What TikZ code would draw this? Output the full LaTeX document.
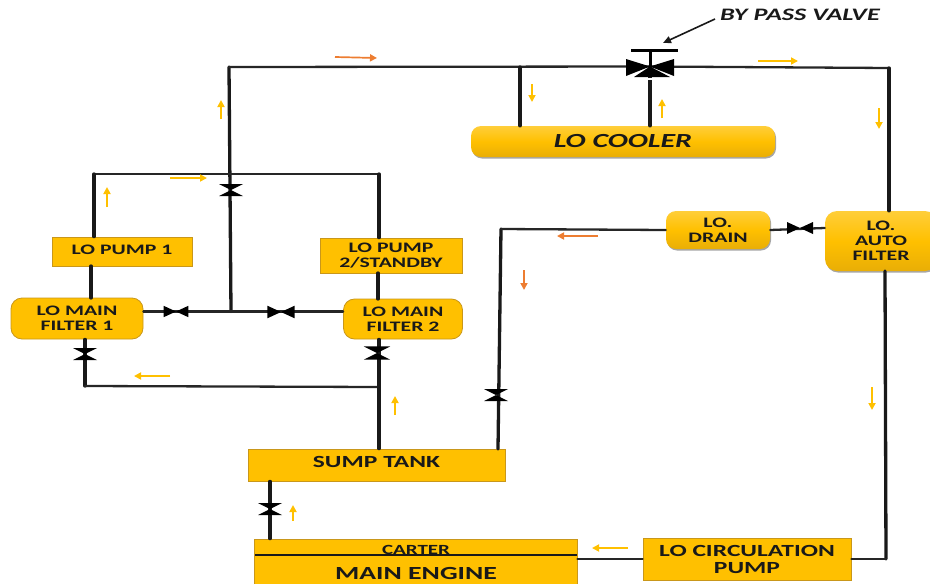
\documentclass[tikz,border=0pt]{standalone}
\usepackage{fontspec}
\newfontfamily\dfont[FakeStretch=1.5]{Carlito}
\usetikzlibrary{shadows,arrows.meta,calc}
\definecolor{gold}{HTML}{FFC000}
\definecolor{goldedge}{HTML}{C9971A}
\definecolor{goldtop}{HTML}{FFCE3A}
\definecolor{goldlow}{HTML}{E9AE06}
\definecolor{flowo}{HTML}{ED7D31}
\tikzset{
  x=1pt,y=-1pt,
  box/.style={inner sep=0pt,align=center,font=\dfont\bfseries\fontsize{14.5}{15}\selectfont,text=black!90},
  flat/.style={box,fill=gold,draw=goldedge,line width=0.8pt},
  soft/.style={flat,rounded corners=11pt},
  glossy/.style={box,rounded corners=10pt,top color=goldtop,bottom color=goldlow,middle color=gold,
    drop shadow={shadow xshift=1pt,shadow yshift=-1.5pt,fill=black,opacity=.35}},
  pipe/.style={line width=3.3pt,black!90,line cap=round},
  thinpipe/.style={line width=2.3pt,black!85,line cap=round},
  flowy/.style={-{Triangle[length=7pt,width=7pt]},line width=1.7pt,gold},
  flowr/.style={-{Triangle[length=7pt,width=7pt]},line width=1.7pt,flowo},
  pics/hvalve/.style={code={\fill[black] (-13,-6)--(0,0)--(-13,6)--cycle (13,-6)--(0,0)--(13,6)--cycle;}},
  pics/vvalve/.style={code={\fill[black] (-12,-6)--(12,-6)--(0,0)--cycle (-12,6)--(12,6)--(0,0)--cycle;}},
}
\begin{document}
\begin{tikzpicture}
\useasboundingbox (0,0) rectangle (930,584);
\clip (0,0) rectangle (930,584);

\node[glossy,minimum width=304pt,minimum height=31pt,font=\dfont\bfseries\itshape\fontsize{20}{22}\selectfont] (cooler) at (623,141.5) {LO COOLER};
\node[flat,minimum width=140pt,minimum height=29pt] (pump1) at (122,251.5) {\raisebox{3pt}{LO PUMP 1}};
\node[flat,minimum width=142pt,minimum height=35pt] (pump2) at (391,255.5) {LO PUMP\\2/STANDBY};
\node[soft,minimum width=132pt,minimum height=41pt] (filter1) at (77,318.5) {LO MAIN\\FILTER 1};
\node[soft,minimum width=119pt,minimum height=40pt] (filter2) at (403,319) {LO MAIN\\FILTER 2};
\node[flat,minimum width=257pt,minimum height=32pt,font=\dfont\bfseries\fontsize{17}{18}\selectfont] (sump) at (376.5,465) {\raisebox{6pt}{SUMP TANK}};
\node[flat,minimum width=323pt,minimum height=60pt] (engine) at (415.5,569) {};
\node[box,font=\dfont\bfseries\fontsize{14}{15}\selectfont] (carter) at (416,549.5) {CARTER};
\node[box,font=\dfont\bfseries\fontsize{18.5}{20}\selectfont] (mainlbl) at (416,573.5) {MAIN ENGINE};
\node[flat,minimum width=208pt,minimum height=42pt,font=\dfont\bfseries\fontsize{17}{17}\selectfont] (circ) at (747,559) {LO CIRCULATION\\PUMP};
\node[glossy,minimum width=104pt,minimum height=38pt] (drain) at (718,230) {LO.\\DRAIN};
\node[glossy,minimum width=112pt,minimum height=60pt,rounded corners=12pt] (auto) at (881,241) {LO.\\AUTO\\FILTER};
\node[box,font=\dfont\bfseries\itshape\fontsize{17.5}{18}\selectfont] (bypasslbl) at (800,14.5) {BY PASS VALVE};

\coordinate (bp) at (650,66.5);
\coordinate (tl) at (229,67);
\coordinate (tr) at (889,68);
\coordinate (tee) at (520,67);
\coordinate (cross) at (231,311.5);
\coordinate (bl) at (94,174);
\coordinate (br) at (379,174);
\coordinate (fl) at (85,386);
\coordinate (fr) at (379,387);
\coordinate (dl) at (501,229);
\coordinate (cr) at (886,559);
\coordinate (hub) at (270,510);

\coordinate (v1) at (231,190);
\coordinate (v2) at (176,311.5);
\coordinate (v3) at (281,312);
\coordinate (v4) at (85,354);
\coordinate (v5) at (377,353);
\coordinate (v6) at (496,395);
\coordinate (v7) at (800,228);
\coordinate (v8) at (270,509);

\draw[pipe] (cross) -- (tl);
\draw[thinpipe] (tl) -- (bp) -- (tr);
\draw[pipe] (tr) -- (tr |- auto.north);
\draw[pipe] (tee) -- (tee |- cooler.north);
\draw[pipe] (bp) -- (bp |- cooler.north);
\draw[thinpipe] (bl) -- (br);
\draw[pipe] (bl) -- (bl |- pump1.north);
\draw[pipe] (br) -- (br |- pump2.north);
\draw[pipe] (91,266) -- (91,298);
\draw[pipe] (378,273) -- (378,299);
\draw[thinpipe] (filter1.east |- cross) -- (cross) -- (filter2.west |- cross);
\draw[pipe] (fl |- filter1.south) -- (fl);
\draw[thinpipe] (fl) -- (fr);
\draw[pipe] (fr |- filter2.south) -- (fr |- sump.north);
\draw[pipe] (498,449) -- (dl);
\draw[thinpipe] (dl) -- (drain.west);
\draw[thinpipe] (drain.east) -- (auto.west |- v7);
\draw[pipe] (885,271) -- (cr);
\draw[thinpipe] (cr) -- (circ.east |- cr);
\draw[thinpipe] (circ.west) -- (engine.east |- circ.west);
\draw[pipe] (hub |- sump.south) -- (hub |- engine.north);
\draw[line width=1.7pt,black!90] (255,555) -- (577,555);

\pic at (v1) {vvalve};
\pic[scale=.95] at (v2) {hvalve};
\pic[scale=1.05] at (v3) {hvalve};
\pic at (v4) {vvalve};
\pic[scale=1.1] at (v5) {vvalve};
\pic at (v6) {vvalve};
\pic[scale=1] at (v7) {hvalve};
\pic at (v8) {vvalve};

% by-pass valve
\fill[black] (626,59)--(650,66.5)--(626,76)--cycle (674,59)--(650,66.5)--(674,76)--cycle;
\fill[black] (634,77)--(650,66.5)--(670,77)--cycle;
\draw[line width=3pt,black] (650,50)--(bp);
\draw[line width=3pt,black] (631,50)--(678,50);
\fill[white] (640,78) rectangle (660,80);
\coordinate (bphead) at (663,43);
\coordinate (bptail) at (715,19);
\draw[-{Triangle[length=8pt,width=7pt]},line width=1.6pt,black!90] (bptail) -- (bphead);

\draw[flowr] (335,57) -- (377,58);
\draw[flowy] (221,119) -- (221,100);
\draw[flowy] (532,84) -- (532,102);
\draw[flowy] (662,118) -- (662,99);
\draw[flowy] (758,61) -- (798,61);
\draw[flowy] (879,108) -- (879,129);
\draw[flowy] (107,207) -- (107,187);
\draw[flowy] (170,178) -- (207,178);
\draw[flowr] (598,236) -- (557,236);
\draw[flowr] (524,270) -- (524,290);
\draw[flowy] (170,376) -- (134,376);
\draw[flowy] (395,415) -- (395,396);
\draw[flowy] (872,387) -- (872,410);
\draw[flowy] (293,521) -- (293,505);
\draw[flowy] (628,548) -- (592,548);
\end{tikzpicture}
\end{document}
